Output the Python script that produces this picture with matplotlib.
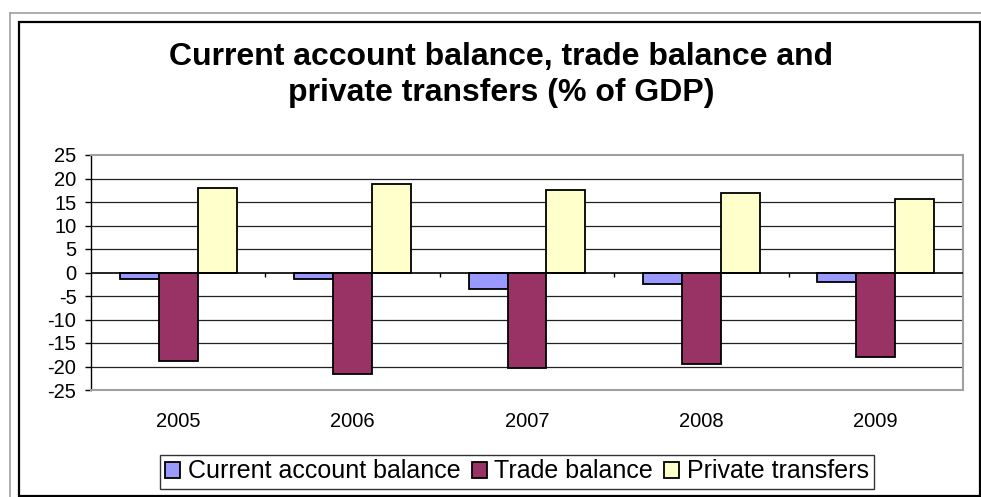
import numpy as np
import matplotlib
matplotlib.use('Agg')
import matplotlib.pyplot as plt
from matplotlib.lines import Line2D
from matplotlib.patches import Rectangle

# data (% of GDP)
years = ['2005', '2006', '2007', '2008', '2009']
current_account = [-1.4, -1.4, -3.5, -2.4, -2.0]
trade_balance = [-18.8, -21.5, -20.3, -19.4, -17.9]
private_transfers = [18.0, 18.8, 17.6, 16.9, 15.7]
yticks = [-25, -20, -15, -10, -5, 0, 5, 10, 15, 20, 25]

plt.rcParams['font.family'] = ['Liberation Sans', 'DejaVu Sans']

W, H = 981, 497
fig = plt.figure(figsize=(W / 100, H / 100), dpi=100)

# frames round the chart, in pixel coords
fig.add_artist(Line2D([10 / W, 1], [1 - 13 / H, 1 - 13 / H], color='#a0a0a0', lw=1.2))
fig.add_artist(Line2D([10 / W, 10 / W], [0, 1 - 13 / H], color='#a0a0a0', lw=1.2))
fig.add_artist(Rectangle((19 / W, 1 / H), (980 - 19) / W, (496 - 22) / H,
                         fill=False, ec='black', lw=1.6, transform=fig.transFigure))

ax = fig.add_axes([91 / W, 1 - 390 / H, (963 - 91) / W, (390 - 155) / H])

x = np.arange(len(years))
w = 0.223
series = [(current_account, '#9999FF', 'Current account balance'),
          (trade_balance, '#993366', 'Trade balance'),
          (private_transfers, '#FFFFCC', 'Private transfers')]
for i, (vals, col, lab) in enumerate(series):
    ax.bar(x + (i - 1) * w, vals, w, color=col, edgecolor='black', linewidth=1.3,
           label=lab, zorder=3)

ax.set_xlim(-0.5, len(years) - 0.5)
ax.set_ylim(-25, 25)
ax.set_yticks(yticks)
ax.set_yticklabels([str(t) for t in yticks], fontsize=14.5)
for t in yticks[1:-1]:
    if t != 0:
        ax.axhline(t, color='#222222', lw=0.9, zorder=1)
ax.axhline(0, color='black', lw=1.2, zorder=4)
# category tick marks on the zero line
ax.vlines(x[:-1] + 0.5, -0.9, 0, color='black', lw=1, zorder=4)

ax.set_xticks(x)
ax.set_xticklabels(years, fontsize=14.5)
ax.tick_params(axis='x', length=0, pad=16)
ax.tick_params(axis='y', length=4.5, width=1, pad=6, color='black')
for s in ['top', 'right', 'bottom']:
    ax.spines[s].set_color('#a0a0a0')
    ax.spines[s].set_linewidth(1.5)
ax.spines['left'].set_color('black')
ax.spines['left'].set_linewidth(1)

fig.text(501 / W, 1 - 75 / H, 'Current account balance, trade balance and\nprivate transfers (% of GDP)',
         ha='center', va='center', fontsize=23, fontweight='bold', linespacing=1.25)

leg = fig.legend(loc='center', bbox_to_anchor=(517 / W, 1 - 471.5 / H), ncol=3,
                 fontsize=18, frameon=True, fancybox=False, edgecolor='black',
                 handlelength=0.6, handleheight=0.6, handletextpad=0.3,
                 columnspacing=0.45, borderpad=0.2)
leg.get_frame().set_linewidth(1)

fig.savefig('out.png', dpi=100)
